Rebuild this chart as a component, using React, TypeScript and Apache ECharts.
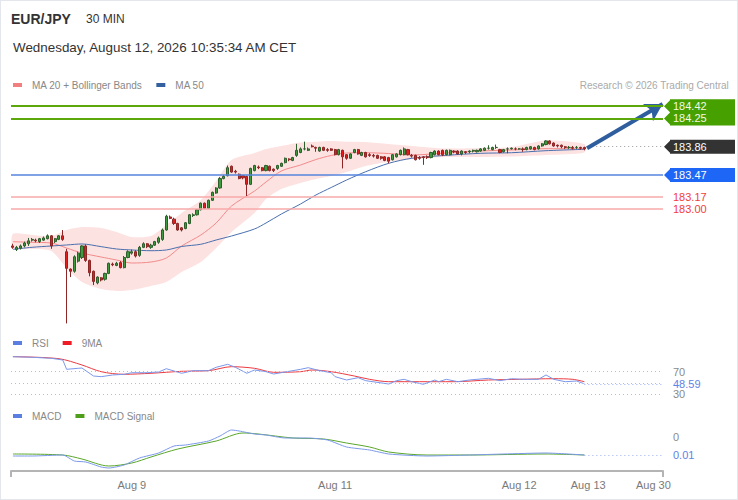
import React, { useEffect, useRef } from 'react';
import * as echarts from 'echarts';

// ---------- DATA ----------
// candles: [open, close, low, high]
const ohlc: number[][] = [
  [182.49,182.47,182.45,182.52],[182.44,182.47,182.42,182.49],[182.46,182.49,182.44,182.51],[182.49,182.53,182.47,182.55],
  [182.52,182.56,182.49,182.60],[182.57,182.58,182.55,182.60],[182.57,182.56,182.54,182.59],[182.55,182.59,182.53,182.60],
  [182.57,182.60,182.56,182.62],[182.59,182.63,182.58,182.65],[182.63,182.49,182.45,182.64],[182.55,182.59,182.53,182.60],
  [182.58,182.63,182.57,182.64],[182.63,182.58,182.56,182.71],[182.41,182.18,181.42,182.45],[182.17,182.14,182.06,182.18],
  [182.14,182.34,182.12,182.36],[182.28,182.39,182.26,182.41],[182.33,182.49,182.31,182.50],[182.49,182.29,182.27,182.51],
  [182.29,182.12,182.07,182.30],[182.14,182.00,181.95,182.15],[181.98,182.06,181.96,182.07],[182.05,182.02,182.00,182.06],
  [182.03,182.11,182.01,182.12],[182.11,182.25,182.10,182.26],[182.24,182.23,182.21,182.26],[182.22,182.25,182.21,182.27],
  [182.26,182.19,182.18,182.28],[182.19,182.33,182.18,182.35],[182.33,182.41,182.32,182.43],[182.39,182.41,182.37,182.44],
  [182.41,182.35,182.33,182.43],[182.36,182.47,182.34,182.49],[182.47,182.52,182.46,182.54],[182.52,182.48,182.46,182.53],
  [182.47,182.50,182.45,182.52],[182.50,182.55,182.49,182.56],[182.54,182.60,182.52,182.62],[182.58,182.71,182.56,182.73],
  [182.71,182.90,182.70,182.92],[182.89,182.87,182.86,182.91],[182.86,182.80,182.78,182.88],[182.80,182.71,182.70,182.81],
  [182.74,182.71,182.69,182.75],[182.73,182.81,182.72,182.82],[182.80,182.92,182.79,182.93],[182.91,182.92,182.89,182.94],
  [182.92,182.99,182.91,183.00],[182.99,183.08,182.98,183.09],[183.08,183.01,183.00,183.09],[183.01,183.12,183.00,183.13],
  [183.12,183.23,183.11,183.24],[183.22,183.29,183.21,183.30],[183.29,183.42,183.28,183.44],[183.42,183.45,183.41,183.47],
  [183.46,183.57,183.45,183.60],[183.59,183.51,183.50,183.60],[183.52,183.51,183.49,183.54],[183.48,183.42,183.41,183.49],
  [183.46,183.43,183.41,183.47],[183.45,183.34,183.18,183.46],[183.34,183.56,183.33,183.57],[183.53,183.60,183.52,183.61],
  [183.58,183.57,183.55,183.60],[183.57,183.53,183.52,183.58],[183.53,183.60,183.52,183.61],[183.59,183.53,183.52,183.60],
  [183.55,183.53,183.51,183.56],[183.56,183.60,183.54,183.61],[183.59,183.63,183.58,183.64],[183.64,183.70,183.63,183.71],
  [183.69,183.68,183.66,183.70],[183.67,183.71,183.66,183.72],[183.74,183.81,183.72,183.90],[183.78,183.83,183.77,183.85],
  [183.83,183.83,183.81,183.93],[183.81,183.83,183.80,183.85],[183.87,183.86,183.85,183.89],[183.85,183.84,183.79,183.86],
  [183.80,183.85,183.79,183.86],[183.85,183.81,183.80,183.86],[183.82,183.81,183.79,183.84],[183.83,183.81,183.80,183.84],
  [183.82,183.75,183.74,183.83],[183.75,183.82,183.74,183.83],[183.81,183.72,183.56,183.82],[183.75,183.70,183.68,183.76],
  [183.70,183.76,183.69,183.77],[183.78,183.82,183.77,183.83],[183.82,183.76,183.75,183.83],[183.74,183.78,183.73,183.79],
  [183.78,183.72,183.71,183.79],[183.75,183.74,183.72,183.77],[183.74,183.73,183.71,183.76],[183.74,183.70,183.69,183.75],
  [183.72,183.70,183.68,183.73],[183.72,183.67,183.66,183.73],[183.71,183.66,183.63,183.72],[183.68,183.75,183.67,183.76],
  [183.72,183.76,183.71,183.77],[183.75,183.81,183.74,183.82],[183.75,183.83,183.74,183.85],[183.82,183.75,183.74,183.83],
  [183.74,183.73,183.71,183.76],[183.74,183.68,183.67,183.75],[183.71,183.70,183.68,183.73],[183.72,183.71,183.61,183.73],
  [183.72,183.71,183.69,183.74],[183.71,183.78,183.70,183.79],[183.75,183.80,183.74,183.81],[183.80,183.75,183.74,183.81],
  [183.81,183.75,183.73,183.82],[183.75,183.81,183.74,183.82],[183.75,183.81,183.74,183.82],[183.80,183.79,183.77,183.81],
  [183.80,183.76,183.75,183.81],[183.76,183.80,183.74,183.81],[183.79,183.78,183.76,183.80],[183.79,183.80,183.77,183.81],
  [183.80,183.81,183.78,183.82],[183.79,183.81,183.78,183.82],[183.80,183.83,183.79,183.84],[183.81,183.84,183.80,183.85],
  [183.84,183.84,183.82,183.88],[183.82,183.85,183.81,183.86],[183.85,183.85,183.83,183.89],[183.82,183.78,183.77,183.83],
  [183.79,183.82,183.78,183.83],[183.83,183.83,183.77,183.85],[183.83,183.84,183.82,183.85],[183.83,183.83,183.81,183.85],
  [183.83,183.83,183.82,183.84],[183.83,183.82,183.79,183.85],[183.82,183.85,183.81,183.86],[183.83,183.86,183.82,183.87],
  [183.85,183.82,183.81,183.86],[183.83,183.87,183.82,183.88],[183.87,183.90,183.86,183.91],[183.89,183.94,183.88,183.95],
  [183.94,183.90,183.89,183.95],[183.91,183.87,183.86,183.92],[183.88,183.87,183.85,183.89],[183.88,183.86,183.84,183.89],
  [183.86,183.85,183.83,183.87],[183.85,183.85,183.83,183.87],[183.85,183.84,183.82,183.87],[183.85,183.85,183.83,183.87],
  [183.85,183.84,183.82,183.86],[183.85,183.83,183.81,183.86],
];

const slotCount = 170;
const tickIndex = [31, 84, 132, 150, 167];
const tickText = ['Aug 9', 'Aug 11', 'Aug 12', 'Aug 13', 'Aug 30'];

// indicator samples (candle index -> value)
const bandIdx = [0,5,10,14,18,23,27,31,36,40,44,49,53,57,63,66,70,75,79,83,87,92,98,104,113,122,130,139,149];
const ma20 = [182.548,182.540,182.530,182.461,182.392,182.337,182.296,182.254,182.268,182.323,182.489,182.641,182.807,183.041,183.248,183.373,183.525,183.607,183.683,183.739,183.773,183.777,183.766,183.746,183.773,183.801,183.815,183.833,183.833];
const ma50 = [182.443,182.471,182.489,182.503,182.517,182.480,182.448,182.434,182.424,182.434,182.482,182.513,182.572,182.627,182.724,182.807,182.931,183.069,183.193,183.297,183.400,183.515,183.631,183.700,183.741,183.769,183.777,183.805,183.824];
const bbUpper = [182.655,182.641,182.627,182.710,182.751,182.738,182.682,182.613,182.627,182.779,182.945,183.124,183.387,183.677,183.773,183.828,183.870,183.918,183.929,183.939,183.929,183.925,183.897,183.870,183.835,183.842,183.856,183.946,183.897];
const bbLower = [182.461,182.448,182.420,182.185,181.992,181.895,181.868,181.881,181.937,181.992,182.130,182.268,182.461,182.682,182.945,183.138,183.276,183.359,183.414,183.456,183.511,183.594,183.653,183.690,183.718,183.718,183.725,183.746,183.780];

const rsiIdx = [0,5,10,13,14,17,18,21,23,26,29,31,35,38,40,44,47,51,53,56,58,61,63,66,68,71,75,77,80,83,84,87,90,92,98,100,102,104,107,110,111,113,116,119,124,127,130,133,137,139,141,144,147,149];
const rsi = [96.6,95.5,93.7,90.7,74.2,76.0,76.5,62.4,61.2,64.2,65.4,68.2,68.2,69.5,75.3,67.2,71.8,71.8,77.8,83.1,77.8,67.2,73.0,70.0,65.9,69.5,74.2,77.1,71.8,68.2,61.2,55.3,59.4,54.1,48.2,54.1,56.5,52.3,47.7,55.3,52.3,56.5,52.3,55.3,58.3,54.1,57.6,56.5,56.5,64.2,56.5,52.3,53.5,48.59];
const rsiMaIdx = [0,12,18,23,29,36,44,51,57,63,68,75,78,83,89,93,98,106,115,124,132,141,146,149];
const rsiMa = [96.6,93.0,81.9,70.0,65.4,67.2,70.7,71.8,78.9,76.0,68.9,70.0,73.0,70.0,62.4,56.5,52.3,52.3,52.3,55.3,56.5,57.6,56.5,52.3];

const macdIdx = [0,5,13,16,19,23,25,29,33,38,42,45,51,54,57,59,63,66,71,77,82,87,93,98,108,119,128,139,149];
const macd = [-0.019,-0.019,-0.018,-0.024,-0.025,-0.030,-0.031,-0.028,-0.021,-0.016,-0.009,-0.008,-0.004,0.001,0.007,0.006,0.003,0.002,-0.001,-0.001,-0.003,-0.010,-0.013,-0.017,-0.019,-0.018,-0.017,-0.016,-0.018];
const signalIdx = [0,13,18,25,31,36,43,53,60,64,73,81,87,93,98,108,119,139,149];
const signal = [-0.017,-0.018,-0.022,-0.029,-0.026,-0.020,-0.012,-0.004,0.004,0.003,-0.001,-0.002,-0.006,-0.010,-0.015,-0.018,-0.018,-0.017,-0.018];

const resistances = [184.42, 184.25];
const lastPrice = 183.86;
const support1 = 183.47;
const supports2 = [183.17, 183.0];
const arrowFrom = [149.7, 183.84];
const arrowTo = [169.4, 184.45];
const rsiLast = 48.59;
const macdLastText = '0.01';

const FONT = "'Liberation Sans', Arial, Helvetica, sans-serif";

export default function App() {
  const ref = useRef<HTMLDivElement>(null);

  useEffect(() => {
    const el = ref.current as HTMLDivElement;
    const chart = echarts.init(el, undefined, { renderer: 'svg' });
    const at = (idx: number[], vals: number[]) => idx.map((i, k) => [i + 0.5, vals[k]]);
    const categories = Array.from({ length: slotCount }, (_, i) => {
      const k = tickIndex.indexOf(i);
      return k >= 0 ? tickText[k] : '';
    });
    const lastI = ohlc.length; // first empty slot
    const macdLast = macd[macd.length - 1];
    const dotted = [1, 3];
    const legendText = { color: '#888', fontSize: 10, padding: [0, 0, 0, 5], fontFamily: FONT };

    const option: any = {
      animation: false,
      textStyle: { fontFamily: FONT },
      title: [
        { text: 'EUR/JPY', left: 11, top: 12, padding: 0, textStyle: { fontSize: 14, fontWeight: 'bold', color: '#333', fontFamily: FONT } },
        { text: '30 MIN', left: 86, top: 12.5, padding: 0, textStyle: { fontSize: 12, fontWeight: 'normal', color: '#333', fontFamily: FONT } },
        { text: 'Wednesday, August 12, 2026 10:35:34 AM CET', left: 13, top: 41, padding: 0, textStyle: { fontSize: 13.4, fontWeight: 'normal', color: '#333', fontFamily: FONT } },
        { text: 'Research © 2026 Trading Central', right: 9, top: 80.5, padding: 0, textStyle: { fontSize: 10, fontWeight: 'normal', color: '#aaa', fontFamily: FONT } },
      ],
      legend: [
        { left: 13, top: 80, padding: 0, itemWidth: 9, itemHeight: 4, itemGap: 14, icon: 'rect', selectedMode: false,
          data: ['MA 20 + Bollinger Bands', 'MA 50'], textStyle: legendText },
        { left: 13, top: 338, padding: 0, itemWidth: 9, itemHeight: 4, itemGap: 14, icon: 'rect', selectedMode: false,
          data: ['RSI', '9MA'], textStyle: legendText },
        { left: 13, top: 411, padding: 0, itemWidth: 9, itemHeight: 4, itemGap: 14, icon: 'rect', selectedMode: false,
          data: ['MACD', 'MACD Signal'], textStyle: legendText },
      ],
      grid: [
        { left: 11, right: 75, top: 95, height: 240 },
        { left: 11, right: 75, top: 354.75, height: 56.5 },
        { left: 11, right: 75, top: 420, height: 51 },
      ],
      xAxis: [
        { type: 'category', gridIndex: 0, data: categories, boundaryGap: true, show: false },
        { type: 'value', gridIndex: 0, min: 0, max: slotCount, show: false },
        { type: 'value', gridIndex: 1, min: 0, max: slotCount, show: false },
        { type: 'value', gridIndex: 2, min: 0, max: slotCount, show: false },
        { type: 'category', gridIndex: 2, position: 'bottom', data: categories, boundaryGap: true,
          axisLine: { show: true, lineStyle: { color: '#b4b4b4', width: 2 } }, axisTick: { show: false },
          splitLine: { show: false },
          axisLabel: { interval: 0, color: '#7a7a7a', fontSize: 11, margin: 8, fontFamily: FONT } },
      ],
      yAxis: [
        { type: 'value', gridIndex: 0, min: 181.26, max: 184.574, show: false },
        { type: 'value', gridIndex: 1, min: 0, max: 100, position: 'right',
          axisLine: { show: false }, axisTick: { show: false }, splitLine: { show: false },
          axisLabel: { customValues: [30, 70], color: '#8a8a8a', fontSize: 11, margin: 10, fontFamily: FONT } },
        { type: 'value', gridIndex: 2, min: -0.034, max: 0.017, position: 'right',
          axisLine: { show: false }, axisTick: { show: false }, splitLine: { show: false },
          axisLabel: { customValues: [0], formatter: (v: number) => String(Math.round(v)), color: '#8a8a8a', fontSize: 11, margin: 10, fontFamily: FONT } },
      ],
      series: [
        // Bollinger band as one filled shape between the upper and lower band
        { name: 'bb', type: 'custom', xAxisIndex: 1, yAxisIndex: 0, silent: true, z: 1,
          data: [[bandIdx[0] + 0.5, bbUpper[0]]],
          renderItem: (_params: any, api: any) => {
            const up = bandIdx.map((i, k) => api.coord([i + 0.5, bbUpper[k]]));
            const lo = bandIdx.map((i, k) => api.coord([i + 0.5, bbLower[k]])).reverse();
            return { type: 'polygon', shape: { points: up.concat(lo), smooth: 0.25 }, style: { fill: '#fde2e2' } };
          } },
        { name: 'MA 20 + Bollinger Bands', type: 'line', xAxisIndex: 1, yAxisIndex: 0, data: at(bandIdx, ma20), color: '#f27f7f',
          symbol: 'none', smooth: 0.3, silent: true, lineStyle: { width: 1, color: '#f28a8a' }, z: 2 },
        { name: 'MA 50', type: 'line', xAxisIndex: 1, yAxisIndex: 0, data: at(bandIdx, ma50), color: '#35609f',
          symbol: 'none', smooth: 0.3, silent: true, lineStyle: { width: 1, color: '#4a6fae' }, z: 2,
          markLine: {
            silent: true, symbol: ['none', 'none'], label: { show: false },
            data: [
              [{ coord: [lastI + 0.5, lastPrice], lineStyle: { type: dotted, color: '#999', width: 1 } }, { coord: [slotCount, lastPrice] }],
              [{ coord: [arrowFrom[0] + 0.5, arrowFrom[1]], symbol: 'none', lineStyle: { type: 'solid', color: '#2f5e9e', width: 4 } },
               { coord: [arrowTo[0] + 0.5, arrowTo[1]], symbol: 'arrow', symbolSize: [15, 17] }],
            ],
          } },
        { name: 'price', type: 'candlestick', xAxisIndex: 0, yAxisIndex: 0, data: ohlc, barWidth: 2.6, z: 3,
          itemStyle: { color: '#3d9a3d', color0: '#e31c1c', borderColor: '#2d5f2d', borderColor0: '#8e2626', borderWidth: 1 },
          markLine: {
            silent: true, symbol: ['none', 'none'], label: { show: false },
            data: [
              ...resistances.map((v) => ({ yAxis: v, lineStyle: { type: 'solid', color: '#5ca80a', width: 2 } })),
              { yAxis: support1, lineStyle: { type: 'solid', color: '#5585de', width: 1.5 } },
              ...supports2.map((v) => ({ yAxis: v, lineStyle: { type: 'solid', color: '#f7a8a8', width: 1.5 } })),
            ],
          } },
        { name: 'RSI', type: 'line', xAxisIndex: 2, yAxisIndex: 1, data: at(rsiIdx, rsi), color: '#5b7fe0',
          symbol: 'none', silent: true, lineStyle: { width: 1, color: '#7b98ea' }, z: 3,
          markLine: {
            silent: true, symbol: ['none', 'none'], label: { show: false },
            lineStyle: { type: dotted, color: '#bdbdbd', width: 1 },
            data: [{ yAxis: 70 }, { yAxis: 50 }, { yAxis: 30 }],
          } },
        { name: '9MA', type: 'line', xAxisIndex: 2, yAxisIndex: 1, data: at(rsiMaIdx, rsiMa), color: '#ee1c24',
          symbol: 'none', silent: true, smooth: 0.3, lineStyle: { width: 1, color: '#ec3a40' }, z: 2,
          markLine: {
            silent: true, symbol: ['none', 'none'],
            lineStyle: { type: dotted, color: '#98aef0', width: 1 },
            label: { show: true, position: 'end', distance: 10, formatter: String(rsiLast), color: '#5f82e6', fontSize: 11, fontFamily: FONT },
            data: [[{ coord: [rsiIdx[rsiIdx.length - 1] + 0.5, rsiLast] }, { coord: [slotCount, rsiLast] }]],
          } },
        { name: 'MACD', type: 'line', xAxisIndex: 3, yAxisIndex: 2, data: at(macdIdx, macd), color: '#5b7fe0',
          symbol: 'none', silent: true, smooth: 0.2, lineStyle: { width: 1, color: '#7b98ea' }, z: 3 },
        { name: 'MACD Signal', type: 'line', xAxisIndex: 3, yAxisIndex: 2, data: at(signalIdx, signal), color: '#4f9e1a',
          symbol: 'none', silent: true, smooth: 0.3, lineStyle: { width: 1, color: '#5aa62a' }, z: 2,
          markLine: {
            silent: true, symbol: ['none', 'none'],
            lineStyle: { type: dotted, color: '#98aef0', width: 1 },
            label: { show: true, position: 'end', distance: 10, formatter: macdLastText, color: '#5f82e6', fontSize: 11, fontFamily: FONT },
            data: [[{ coord: [macdIdx[macdIdx.length - 1] + 0.5, macdLast] }, { coord: [slotCount, macdLast] }]],
          } },
      ],
    };
    chart.setOption(option);

    // right-side price tags, anchored to the price axis
    const py = (v: number) => chart.convertToPixel({ yAxisIndex: 0 }, v) as unknown as number;
    const gx = chart.convertToPixel({ xAxisIndex: 1 }, slotCount) as unknown as number;
    const gl = chart.convertToPixel({ xAxisIndex: 1 }, 0) as unknown as number;
    const axisY = chart.convertToPixel({ yAxisIndex: 2 }, -0.034) as unknown as number;
    const tip = gx + 1;
    const body = gx + 7;
    const right = 735;
    const y1 = py(resistances[0]);
    const y2 = py(resistances[1]);
    const yc = py(lastPrice);
    const ys = py(support1);
    const tag = (y: number) => [[body, y - 7], [right, y - 7], [right, y + 7], [body, y + 7], [body, y + 6], [tip, y], [body, y - 6]];
    const txt = (y: number, text: string, fill: string) => ({
      type: 'text', x: body + 3, y, silent: true, z: 20,
      style: { text, fill, fontSize: 11, fontFamily: FONT, align: 'left', verticalAlign: 'middle' },
    });
    const graphic: any[] = [
      { type: 'polygon', silent: true, z: 19, shape: { points: [
        [body, y1 - 7], [right, y1 - 7], [right, y2 + 7], [body, y2 + 7], [body, y2 + 6], [tip, y2], [body, y2 - 6],
        [body, y1 + 6], [tip, y1], [body, y1 - 6],
      ] }, style: { fill: '#46a000' } },
      { type: 'polygon', silent: true, z: 19, shape: { points: tag(yc) }, style: { fill: '#333333' } },
      { type: 'polygon', silent: true, z: 19, shape: { points: tag(ys) }, style: { fill: '#1e66f5' } },
      txt(y1, resistances[0].toFixed(2), '#f2f9e6'),
      txt(y2, resistances[1].toFixed(2), '#f2f9e6'),
      txt(yc, lastPrice.toFixed(2), '#ffffff'),
      txt(ys, support1.toFixed(2), '#ffffff'),
      ...supports2.map((v) => txt(py(v), v.toFixed(2), '#f23c3c')),
      { type: 'line', silent: true, shape: { x1: gl, y1: axisY, x2: gl, y2: axisY + 6 }, style: { stroke: '#b4b4b4', lineWidth: 2 } },
      { type: 'line', silent: true, shape: { x1: gx, y1: axisY, x2: gx, y2: axisY + 6 }, style: { stroke: '#b4b4b4', lineWidth: 2 } },
    ];
    chart.setOption({ graphic });

    return () => chart.dispose();
  }, []);

  return (
    <div style={{ position: 'absolute', left: 0, top: 0, width: 738, height: 500, background: '#fff' }}>
      <div ref={ref} style={{ position: 'absolute', left: 0, top: 0, width: 738, height: 500 }} />
      <div style={{ position: 'absolute', left: 0, top: 0, width: 738, height: 500, border: '1px solid #e3e7eb', boxSizing: 'border-box', pointerEvents: 'none' }} />
    </div>
  );
}
